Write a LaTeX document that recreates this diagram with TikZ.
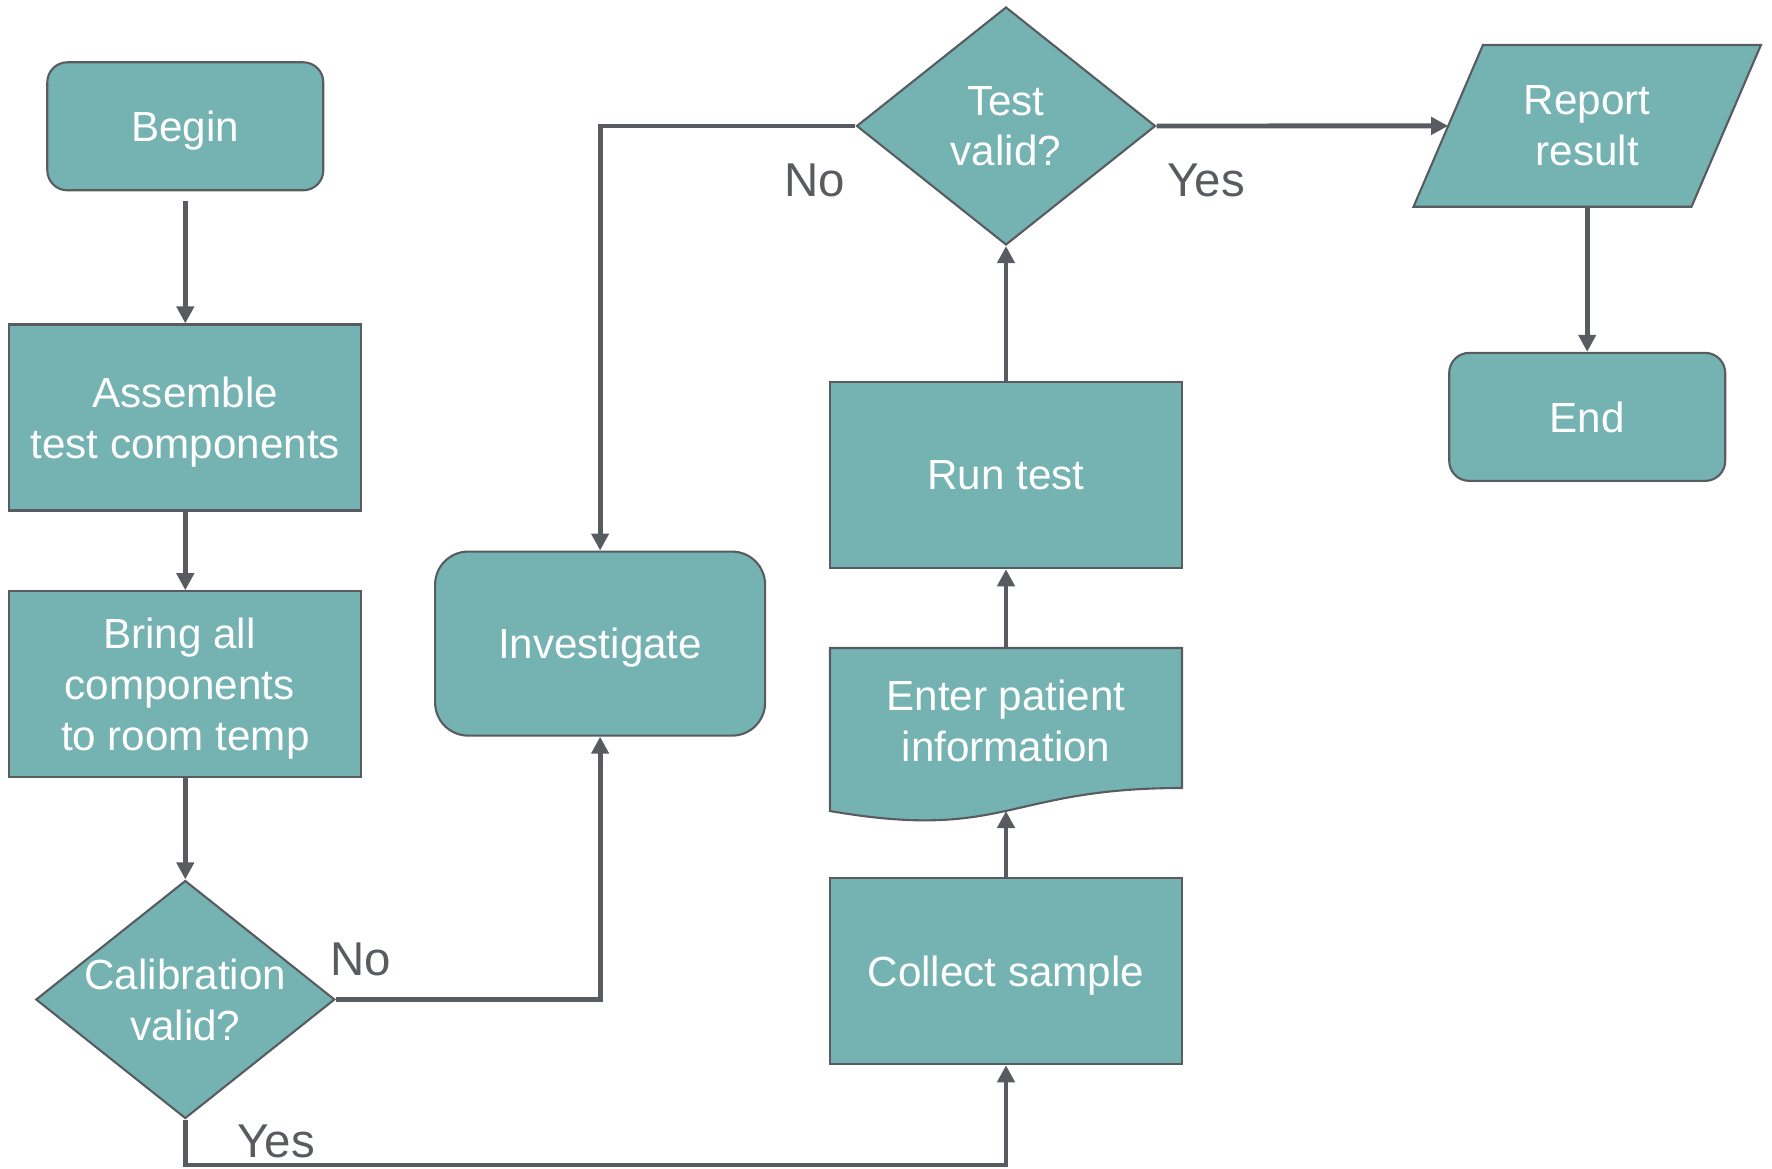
\documentclass[tikz,border=0pt]{standalone}
\usepackage{fontspec}
\setmainfont{Liberation Sans}
\usepackage{tikz}
\usepackage{xcolor}
\usetikzlibrary{arrows.meta,backgrounds,shapes}
\definecolor{flowteal}{RGB}{117,178,178}
\definecolor{flowgray}{RGB}{88,92,96}
\tikzstyle{procbox}	=[rectangle,draw=flowgray,fill=flowteal,line width=0.6pt,minimum width=3.52cm,minimum height=1.86cm,inner sep=0pt,text depth=0pt,text=white,align=center,font=\fontsize{12}{14.5}\selectfont]
\tikzstyle{termbox}	=[procbox,rounded corners=0.2cm,minimum width=2.76cm,minimum height=1.28cm]
\tikzstyle{decbox}	=[procbox,diamond,minimum width=2.99cm,minimum height=2.38cm,inner xsep=-0.3cm]
\tikzstyle{shapeonly}	=[procbox,draw=none,fill=none,outer sep=0pt]
\tikzstyle{shapefill}	=[draw=flowgray,fill=flowteal,line width=0.6pt]
\tikzstyle{lbl}		=[text=flowgray,inner sep=0pt,font=\fontsize{13.5}{16}\selectfont]
\tikzstyle{edgeflow}	=[draw,line width=1.4pt,flowgray,-{Triangle[length=0.17cm,width=0.17cm]}]

\begin{document}
\begin{tikzpicture}
	\useasboundingbox (0,0) rectangle (17.72,11.68);
	
	%%%%% Left column
	\node[termbox] (begin) at (1.853,10.417) {Begin};
	\node[procbox] (assemble) at (1.853,7.505) {Assemble\\ test components};
	\node[procbox] (bring) at (1.853,4.837) {Bring all\mbox{ }\\ components\mbox{ }\\ to room temp};
	\node[decbox] (calib) at (1.853,1.685) {Calibration\\ valid?};
	
	\node[termbox,rounded corners=0.33cm,minimum width=3.30cm,minimum height=1.84cm] (invest) at (6.001,5.244) {Investigate};
	
	%%%%% Middle column (from the bottom up)
	\node[procbox] (collect) at (10.06,1.968) {Collect sample};
	\node[shapeonly,minimum height=1.45cm] (enter) at (10.06,4.475) {Enter patient\\ information};
	\node[procbox] (run) at (10.06,6.928) {Run test};
	\node[decbox] (testv) at (10.06,10.42) {Test\\ valid?};
	
	%%%%% Right column
	\node[shapeonly,minimum width=2.78cm,minimum height=1.617cm] (report) at (15.872,10.421) {Report\\ result};
	\node[termbox] (endn) at (15.872,7.511) {End};
	
	%%%% document and data outlines
	\begin{scope}[on background layer]
	\path[shapefill] (enter.north west) -- (enter.north east) -- ([yshift=-1.40cm]enter.north east) .. controls ([yshift=-1.40cm]enter.north) and ([yshift=-1.934cm]enter.north) .. ([yshift=-1.63cm]enter.north west) -- cycle;
	\path[shapefill] ([xshift=0.347cm]report.north west) -- ([xshift=0.347cm]report.north east) -- ([xshift=-0.347cm]report.south east) -- ([xshift=-0.347cm]report.south west) -- cycle;
	\end{scope}
	
	\coordinate (enterwave) at ([yshift=-1.63cm]enter.north);
	\coordinate (yesturn) at (1.853,0.03);
	
	%%%% Labels
	\node[lbl] (nocalib) at (3.61,2.09) {No};
	\node[lbl] (yescalib) at (2.76,0.263) {Yes};
	\node[lbl] (notest) at (8.15,9.875) {No};
	\node[lbl] (yestest) at (12.06,9.88) {Yes};
	
	%%%% Flow
	\path[edgeflow,shorten <=0.1cm] (begin) -- (assemble);
	\foreach \source/ \dest in {assemble/bring,bring/calib,collect/enterwave,enter/run,run/testv,report/endn}	\path[edgeflow] (\source) -- (\dest) ;
	\path[edgeflow] (calib.east) -| (invest.south);
	\path[edgeflow] (calib.south) -- (yesturn) -| (collect.south);
	\path[edgeflow] (testv.west) -| (invest.north);
	\path[edgeflow] (testv.east) -- (report.west);
\end{tikzpicture}
\end{document}
